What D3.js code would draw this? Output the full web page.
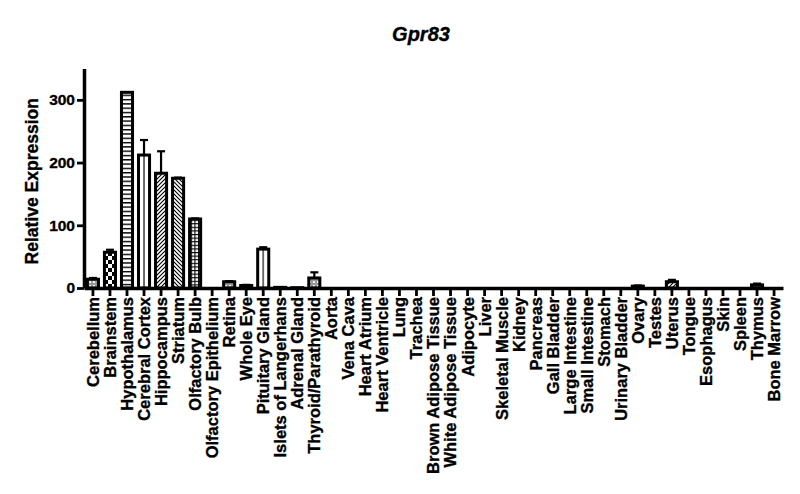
<!DOCTYPE html>
<html>
<head>
<meta charset="utf-8">
<script src="https://cdn.jsdelivr.net/npm/d3@7"></script>
<style>
  body { margin: 0; background: #fff; }
  svg { display: block; }
  text { font-family: "Liberation Sans", Arial, sans-serif; font-weight: bold; fill: #000; stroke: #000; stroke-width: 0.35px; }
</style>
</head>
<body>
<svg id="chart" width="800" height="494"></svg>
<script>
// data
const tissues = [
  "Cerebellum", "Brainstem", "Hypothalamus", "Cerebral Cortex", "Hippocampus",
  "Striatum", "Olfactory Bulb", "Olfactory Epithelium", "Retina", "Whole Eye",
  "Pituitary Gland", "Islets of Langerhans", "Adrenal Gland", "Thyroid/Parathyroid",
  "Aorta", "Vena Cava", "Heart Atrium", "Heart Ventricle", "Lung", "Trachea",
  "Brown Adipose Tissue", "White Adipose Tissue", "Adipocyte", "Liver",
  "Skeletal Muscle", "Kidney", "Pancreas", "Gall Bladder", "Large Intestine",
  "Small Intestine", "Stomach", "Urinary Bladder", "Ovary", "Testes", "Uterus",
  "Tongue", "Esophagus", "Skin", "Spleen", "Thymus", "Bone Marrow"
];
const expression = [
  14, 57, 312, 212, 183, 175, 110, 0, 10, 4,
  62, 1, 0.5, 16, 0, 0, 0, 0, 0, 0,
  0, 0, 0, 0, 0, 0, 0, 0, 0, 0,
  0, 0, 3, 0, 10, 0, 0, 0, 0, 5, 0
];
const errorUp = [
  2, 4, 0, 24, 35, 1, 1, 0, 1, 1,
  3, 0, 0, 9, 0, 0, 0, 0, 0, 0,
  0, 0, 0, 0, 0, 0, 0, 0, 0, 0,
  0, 0, 1, 0, 3, 0, 0, 0, 0, 2, 0
];
const yTicks = [0, 100, 200, 300];
const yMax = 350;

// fill style per bar (pattern ids)
const fillStyle = [
  "dots", "checker", "hlines", "vline", "diagR",
  "diagL", "grid", "none", "dots", "checker",
  "vline", "hlines", "none", "dots", "none", "none", "none", "none", "none", "none",
  "none", "none", "none", "none", "none", "none", "none", "none", "none", "none",
  "none", "none", "hlines", "none", "diagR", "none", "none", "none", "none", "hlines", "none"
];

const svg = d3.select("#chart");
const plotLeft = 84, plotRight = 783, plotTop = 68.5, plotBottom = 288;

// patterns
const defs = svg.append("defs");
function pat(id, w, h) {
  const p = defs.append("pattern").attr("id", id)
    .attr("patternUnits", "userSpaceOnUse").attr("width", w).attr("height", h);
  p.append("rect").attr("width", w).attr("height", h).attr("fill", "#fff");
  return p;
}
pat("hlines", 4, 4.3).append("rect").attr("y", 0).attr("width", 4).attr("height", 1.4).attr("fill", "#000");
const gr = pat("grid", 3.6, 3.6);
gr.append("rect").attr("width", 3.6).attr("height", 1.1).attr("fill", "#000");
gr.append("rect").attr("width", 1.1).attr("height", 3.6).attr("fill", "#000");
const ch = pat("checker", 8, 8);
ch.append("rect").attr("width", 4).attr("height", 4).attr("fill", "#000");
ch.append("rect").attr("x", 4).attr("y", 4).attr("width", 4).attr("height", 4).attr("fill", "#000");
const dr = pat("diagR", 4, 4);
dr.append("path").attr("d", "M-1,5 L5,-1 M-1,1 L1,-1 M3,5 L5,3").attr("stroke", "#000").attr("stroke-width", 1.1);
const dl = pat("diagL", 4, 4);
dl.append("path").attr("d", "M-1,-1 L5,5 M-1,3 L1,5 M3,-1 L5,1").attr("stroke", "#000").attr("stroke-width", 1.1);
const dt = pat("dots", 4, 4);
dt.append("rect").attr("width", 4).attr("height", 4).attr("fill", "#999");
dt.append("circle").attr("cx", 2).attr("cy", 2).attr("r", 1.1).attr("fill", "#fff");
const vl = defs.append("pattern").attr("id", "vline")
  .attr("patternUnits", "objectBoundingBox").attr("patternContentUnits", "objectBoundingBox")
  .attr("width", 1).attr("height", 1);
vl.append("rect").attr("width", 1).attr("height", 1).attr("fill", "#fff");
vl.append("rect").attr("x", 0.45).attr("width", 0.1).attr("height", 1).attr("fill", "#000");

// scales
const x = d3.scaleBand().domain(tissues).range([plotLeft, plotRight])
  .paddingInner(0.35).paddingOuter(0.2);
const y = d3.scaleLinear().domain([0, yMax]).range([plotBottom, plotTop]);

// title
svg.append("text").attr("x", 421).attr("y", 41)
  .attr("text-anchor", "middle").style("font-size", "20px").style("font-style", "italic")
  .text("Gpr83");

// y label
svg.append("text")
  .attr("transform", `translate(38, ${(plotTop + plotBottom) / 2 + 3}) rotate(-90)`)
  .attr("text-anchor", "middle").style("font-size", "17.5px")
  .text("Relative Expression");

// bars
const rows = tissues.map((t, i) => ({ t, v: expression[i], e: errorUp[i], f: fillStyle[i] }));
const barG = svg.append("g");
barG.selectAll("rect.bar").data(rows.filter(d => d.v > 0)).join("rect")
  .attr("class", "bar")
  .attr("x", d => x(d.t))
  .attr("width", x.bandwidth())
  .attr("y", d => y(d.v))
  .attr("height", d => y(0) - y(d.v))
  .attr("fill", d => d.f === "none" ? "#fff" : `url(#${d.f})`)
  .attr("stroke", "#000").attr("stroke-width", 3);

// error bars
const errG = barG.selectAll("g.err").data(rows.filter(d => d.e > 0)).join("g").attr("class", "err");
errG.append("line")
  .attr("x1", d => x(d.t) + x.bandwidth() / 2).attr("x2", d => x(d.t) + x.bandwidth() / 2)
  .attr("y1", d => y(d.v)).attr("y2", d => y(d.v + d.e))
  .attr("stroke", "#000").attr("stroke-width", 2.2);
errG.append("line")
  .attr("x1", d => x(d.t) + x.bandwidth() / 2 - 4).attr("x2", d => x(d.t) + x.bandwidth() / 2 + 4)
  .attr("y1", d => y(d.v + d.e)).attr("y2", d => y(d.v + d.e))
  .attr("stroke", "#000").attr("stroke-width", 2.2);

// axes
const yAxis = svg.append("g").attr("transform", `translate(${plotLeft},0)`)
  .call(d3.axisLeft(y).tickValues(yTicks).tickSize(7).tickPadding(2).tickSizeOuter(0));
yAxis.select(".domain").attr("stroke-width", 3.5);
yAxis.selectAll(".tick line").attr("stroke-width", 2.8);
yAxis.selectAll(".tick text").style("font-size", "15.5px").attr("font-family", null);

const xAxis = svg.append("g").attr("transform", `translate(0,${plotBottom})`)
  .call(d3.axisBottom(x).tickSize(8).tickSizeOuter(0));
xAxis.select(".domain").attr("stroke-width", 3.5);
xAxis.selectAll(".tick line").attr("stroke-width", 2.8);
xAxis.selectAll(".tick text")
  .style("font-size", "16.5px").attr("font-family", null)
  .attr("text-anchor", "end")
  .attr("transform", "rotate(-90)")
  .attr("x", -9).attr("y", 0).attr("dy", "0.36em");
</script>
</body>
</html>
